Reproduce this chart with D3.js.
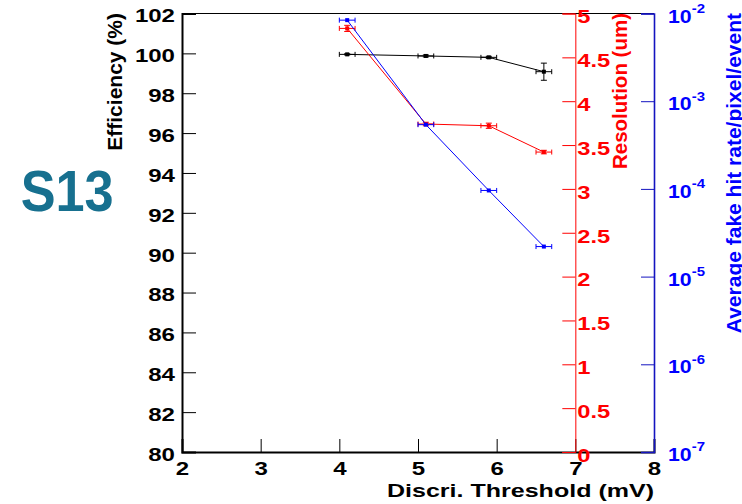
<!DOCTYPE html>
<html>
<head>
<meta charset="utf-8">
<script src="https://cdn.jsdelivr.net/npm/d3@7"></script>
<style>
body { margin: 0; background: #fff; }
svg text { font-family: "Liberation Sans", Arial, sans-serif; font-weight: bold; }
</style>
</head>
<body>
<svg id="chart" width="742" height="504"></svg>
<script>
// data
var thresholds = [4.1, 5.1, 5.9, 6.6];
var thresholdErr = [0.1, 0.1, 0.1, 0.1];
var efficiency = [99.95, 99.87, 99.80, 99.08];
var efficiencyErr = [0.03, 0.05, 0.05, 0.43];
var resolution = [4.83, 3.74, 3.72, 3.42];
var resolutionErr = [0.035, 0.02, 0.03, 0.02];
var fakeRate = [8.4e-3, 5.4e-4, 9.6e-5, 2.2e-5];
var fakeRateErr = [0, 0, 0, 0];

var xTicks = [2, 3, 4, 5, 6, 7, 8];
var effTicks = [80, 82, 84, 86, 88, 90, 92, 94, 96, 98, 100, 102];
var resTicks = [0, 0.5, 1, 1.5, 2, 2.5, 3, 3.5, 4, 4.5, 5];
var fakeTicks = [1e-7, 1e-6, 1e-5, 1e-4, 1e-3, 1e-2];

var plotLeft = 182, plotRight = 654, plotTop = 13.5, plotBottom = 452;
var svg = d3.select('#chart');

var x = d3.scaleLinear().domain([2, 8]).range([plotLeft, plotRight]);
var yEff = d3.scaleLinear().domain([80, 102]).range([plotBottom, plotTop]);
var yRes = d3.scaleLinear().domain([0, 5]).range([plotBottom, plotTop]);
var yFake = d3.scaleLog().domain([1e-7, 1e-2]).range([plotBottom, plotTop]);

// help: stretch tick labels sideways like the ROOT canvas
function stretch(sel, sx){
    sel.selectAll('text').each(function(){
        var t = d3.select(this);
        var tx = +t.attr('x') || 0;
        t.attr('x', 0).attr('transform', 'translate(' + tx + ',0) scale(' + sx + ',1)');
    });
}

function minorRange(a, b, step){
    var out = [];
    var n = Math.round((b - a) / step);
    for (var i = 0; i <= n; i++) out.push(+(a + i * step).toFixed(4));
    return out;
}

// frame top line
svg.append('line').attr('x1', plotLeft).attr('x2', plotRight).attr('y1', plotTop).attr('y2', plotTop)
    .attr('stroke', '#000').attr('stroke-width', 1.2);

// bottom x axis
var gx = svg.append('g').attr('transform', 'translate(0,' + plotBottom + ')');
gx.call(d3.axisBottom(x).tickValues(minorRange(2, 8, 0.2)).tickSize(-7).tickFormat(''));
gx.call(d3.axisBottom(x).tickValues(xTicks).tickSize(-13).tickPadding(10).tickFormat(d3.format('d')));
gx.selectAll('.domain').attr('stroke-width', 2);
gx.selectAll('text').attr('font-size', '18.5px').attr('fill', '#000').attr('transform', 'scale(1.3,1)');

// left efficiency axis
var gl = svg.append('g').attr('transform', 'translate(' + plotLeft + ',0)');
gl.call(d3.axisLeft(yEff).tickValues(minorRange(80, 102, 0.5)).tickSize(-7).tickFormat(''));
gl.call(d3.axisLeft(yEff).tickValues(effTicks).tickSize(-14).tickPadding(7).tickFormat(d3.format('d')));
gl.selectAll('.domain').attr('stroke-width', 2);
gl.selectAll('text').attr('font-size', '18.5px').attr('fill', '#000').attr('dy', '0.45em');
stretch(gl, 1.3);

// red resolution axis
var red = '#ff0000';
var gr = svg.append('g').attr('transform', 'translate(' + x(7) + ',0)');
gr.call(d3.axisRight(yRes).tickValues(minorRange(0, 5, 0.1)).tickSize(-7).tickFormat(''));
gr.call(d3.axisRight(yRes).tickValues(resTicks).tickSize(-13).tickPadding(2).tickFormat(d3.format('')));
gr.selectAll('path, line').attr('stroke', red);
gr.selectAll('text').attr('font-size', '18.5px').attr('fill', red).attr('dy', '0.5em');
stretch(gr, 1.28);

// blue fake rate axis (log)
var blue = '#0000ff';
var fakeMinor = [];
fakeTicks.slice(0, -1).forEach(function(d){
    for (var k = 2; k <= 9; k++) fakeMinor.push(d * k);
});
var gb = svg.append('g').attr('transform', 'translate(' + plotRight + ',0)');
gb.call(d3.axisRight(yFake).tickValues(fakeMinor).tickSize(-7).tickFormat(''));
gb.call(d3.axisRight(yFake).tickValues(fakeTicks).tickSize(-13).tickPadding(14).tickFormat(''));
gb.selectAll('path, line').attr('stroke', '#1414c0');
gb.selectAll('.domain').attr('stroke-width', 1.6);
gb.selectAll('.tick text').filter(function(d){ return fakeTicks.indexOf(d) >= 0; })
    .attr('font-size', '18.5px').attr('fill', blue).attr('dy', '0.47em')
    .each(function(d){
        var t = d3.select(this);
        t.append('tspan').text('10');
        t.append('tspan').attr('font-size', '13px').attr('dy', '-0.75em')
            .text(Math.round(Math.log10(d)));
    });
stretch(gb, 1.15);

// series
function drawSeries(xs, xe, ys, ye, yScale, color){
    var g = svg.append('g');
    var pts = xs.map(function(d, i){ return {x: d, xe: xe[i], y: ys[i], ye: ye[i]}; });
    g.append('path').datum(pts)
        .attr('fill', 'none').attr('stroke', color).attr('stroke-width', 1)
        .attr('d', d3.line().x(function(d){ return x(d.x); }).y(function(d){ return yScale(d.y); }));
    var p = g.selectAll('g.pt').data(pts).enter().append('g').attr('class', 'pt');
    // horizontal error with caps
    p.append('line')
        .attr('x1', function(d){ return x(d.x - d.xe); }).attr('x2', function(d){ return x(d.x + d.xe); })
        .attr('y1', function(d){ return yScale(d.y); }).attr('y2', function(d){ return yScale(d.y); })
        .attr('stroke', color).attr('stroke-width', 1);
    [-1, 1].forEach(function(s){
        p.append('line')
            .attr('x1', function(d){ return x(d.x + s * d.xe); }).attr('x2', function(d){ return x(d.x + s * d.xe); })
            .attr('y1', function(d){ return yScale(d.y) - 2.5; }).attr('y2', function(d){ return yScale(d.y) + 2.5; })
            .attr('stroke', color).attr('stroke-width', 1);
    });
    // vertical error with caps
    p.filter(function(d){ return d.ye > 0; }).each(function(d){
        var e = d3.select(this);
        var y1 = yScale(d.y - d.ye), y2 = yScale(d.y + d.ye), cx = x(d.x);
        e.append('line').attr('x1', cx).attr('x2', cx).attr('y1', y1).attr('y2', y2)
            .attr('stroke', color).attr('stroke-width', 1);
        [y1, y2].forEach(function(yy){
            e.append('line').attr('x1', cx - 3).attr('x2', cx + 3).attr('y1', yy).attr('y2', yy)
                .attr('stroke', color).attr('stroke-width', 1);
        });
    });
    p.append('rect')
        .attr('x', function(d){ return x(d.x) - 2; }).attr('y', function(d){ return yScale(d.y) - 2; })
        .attr('width', 4).attr('height', 4).attr('fill', color);
}

drawSeries(thresholds, thresholdErr, efficiency, efficiencyErr, yEff, '#000');
drawSeries(thresholds, thresholdErr, resolution, resolutionErr, yRes, red);
drawSeries(thresholds, thresholdErr, fakeRate, fakeRateErr, yFake, blue);

// titles
svg.append('text').attr('x', 387).attr('y', 497)
    .attr('font-size', '18.6px').attr('textLength', 267).attr('lengthAdjust', 'spacingAndGlyphs')
    .attr('fill', '#000').text('Discri. Threshold (mV)');

svg.append('text').attr('transform', 'translate(122,13) rotate(-90)')
    .attr('text-anchor', 'end').attr('font-size', '21px').attr('fill', '#000')
    .text('Efficiency (%)');

svg.append('text').attr('transform', 'translate(627,13) rotate(-90)')
    .attr('text-anchor', 'end').attr('font-size', '20.5px').attr('fill', red)
    .text('Resolution (um)');

svg.append('text').attr('transform', 'translate(741,13) rotate(-90)')
    .attr('text-anchor', 'end').attr('font-size', '21px').attr('fill', blue)
    .text('Average fake hit rate/pixel/event');

// sample name
svg.append('text').attr('x', 20.7).attr('y', 210.7)
    .attr('font-size', '57px').attr('textLength', 93).attr('lengthAdjust', 'spacingAndGlyphs')
    .attr('fill', '#17708f').text('S13');
</script>
</body>
</html>
